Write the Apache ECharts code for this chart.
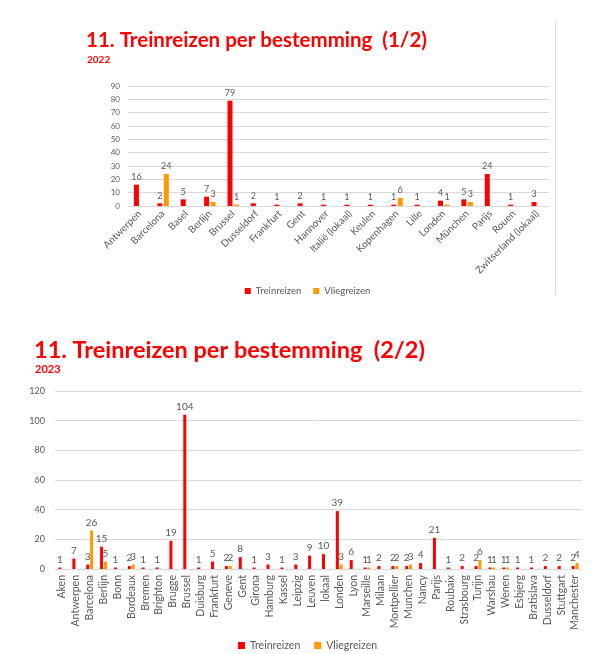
<!DOCTYPE html>
<html>
<head>
<meta charset="utf-8">
<script src="https://cdn.jsdelivr.net/npm/echarts@6/dist/echarts.min.js"></script>
<style>html,body{margin:0;padding:0;background:#fff}#c{width:615px;height:654px}</style>
</head>
<body>
<div id="c"></div>
<script>
const cats2022 = ["Antwerpen","Barcelona","Basel","Berlijn","Brussel","Dusseldorf","Frankfurt","Gent","Hannover","Italië (lokaal)","Keulen","Kopenhagen","Lille","Londen","München","Parijs","Rouen","Zwitserland (lokaal)"];
const trein2022 = [16,2,5,7,79,2,1,2,1,1,1,1,1,4,5,24,1,3];
const vlieg2022 = [null,24,null,3,1,null,null,null,null,null,null,6,null,1,3,null,null,null];
const yTicks2022 = [0,10,20,30,40,50,60,70,80,90];

const cats2023 = ["Aken","Antwerpen","Barcelona","Berlijn","Bonn","Bordeaux","Bremen","Brighton","Brugge","Brussel","Duisburg","Frankfurt","Geneve","Gent","Girona","Hamburg","Kassel","Leipzig","Leuven","lokaal","Londen","Lyon","Marseille","Milaan","Montpellier","Munchen","Nancy","Parijs","Roubaix","Strasbourg","Turijn","Warshau","Wenen","Esbjerg","Bratislava","Dusseldorf","Stuttgart","Manchester"];
const trein2023 = [1,7,3,15,1,2,1,1,19,104,1,5,2,8,1,3,1,3,9,10,39,6,1,2,2,2,4,21,1,2,2,1,1,1,1,2,2,2];
const vlieg2023 = [null,null,26,5,null,3,null,null,null,null,null,null,2,null,null,null,null,null,null,null,3,null,1,null,2,3,null,null,null,null,6,1,1,null,null,null,null,4];
const yTicks2023 = [0,20,40,60,80,100,120];

const RED = '#FF0000', ORANGE = '#FF9900', GRAY = '#595959', GRID = '#D9D9D9';
const FONT = 'Lato';

const chart = echarts.init(document.getElementById('c'), null, {renderer:'canvas'});
const lbl = (fs) => ({show:true, position:'top', color:GRAY, fontSize:fs, fontFamily:FONT, distance:3,
  formatter: p => (p.value == null ? '' : p.value)});

chart.setOption({
  animation:false,
  textStyle:{fontFamily:FONT},
  title:[
    {text:'11. Treinreizen per bestemming  (1/2)', left:81, top:25,
     textStyle:{color:RED, fontSize:20.5, fontWeight:'bold', fontFamily:FONT}},
    {text:'2022', left:82, top:50, textStyle:{color:RED, fontSize:10, fontWeight:'bold', fontFamily:FONT}},
    {text:'11. Treinreizen per bestemming  (2/2)', left:29, top:333,
     textStyle:{color:RED, fontSize:23.5, fontWeight:'bold', fontFamily:FONT}},
    {text:'2023', left:30, top:359, textStyle:{color:RED, fontSize:11, fontWeight:'bold', fontFamily:FONT}}
  ],
  graphic:[{type:'line', shape:{x1:555.5, y1:21, x2:555.5, y2:295}, style:{stroke:GRID, lineWidth:1}}],
  legend:[
    {data:['Treinreizen','Vliegreizen'], left:'center', top:281, itemWidth:6, itemHeight:6, itemGap:12,
     icon:'rect', textStyle:{color:GRAY, fontSize:9.5, fontFamily:FONT},
     selectedMode:false, formatter: n => n},
    {data:['Treinreizen ','Vliegreizen '], left:'center', top:635, itemWidth:7, itemHeight:7, itemGap:14,
     icon:'rect', textStyle:{color:GRAY, fontSize:10.5, fontFamily:FONT}, selectedMode:false,
     formatter: n => n.trim()}
  ],
  grid:[
    {left:128, right:66, top:86, bottom:448},
    {left:55, right:33, top:391, bottom:85}
  ],
  xAxis:[
    {type:'category', gridIndex:0, data:cats2022,
     axisLine:{lineStyle:{color:GRID}}, axisTick:{show:false},
     axisLabel:{rotate:45, color:GRAY, fontSize:10, fontFamily:FONT, margin:6, interval:0}},
    {type:'category', gridIndex:1, data:cats2023,
     axisLine:{lineStyle:{color:GRID}}, axisTick:{show:false},
     axisLabel:{rotate:90, color:GRAY, fontSize:10.5, fontFamily:FONT, margin:6, interval:0}}
  ],
  yAxis:[
    {type:'value', gridIndex:0, min:yTicks2022[0], max:yTicks2022[yTicks2022.length-1], interval:10,
     axisLine:{show:false}, axisTick:{show:false},
     splitLine:{lineStyle:{color:GRID}},
     axisLabel:{color:GRAY, fontSize:8, fontFamily:FONT, margin:8}},
    {type:'value', gridIndex:1, min:yTicks2023[0], max:yTicks2023[yTicks2023.length-1], interval:20,
     axisLine:{show:false}, axisTick:{show:false},
     splitLine:{lineStyle:{color:GRID}},
     axisLabel:{color:GRAY, fontSize:9, fontFamily:FONT, margin:10}}
  ],
  series:[
    {name:'Treinreizen', type:'bar', xAxisIndex:0, yAxisIndex:0, data:trein2022, barWidth:5, barGap:'30%',
     itemStyle:{color:RED}, label:lbl(9)},
    {name:'Vliegreizen', type:'bar', xAxisIndex:0, yAxisIndex:0, data:vlieg2022, barWidth:5, barGap:'30%',
     itemStyle:{color:ORANGE}, label:lbl(9)},
    {name:'Treinreizen ', type:'bar', xAxisIndex:1, yAxisIndex:1, data:trein2023, barWidth:3, barGap:'30%',
     itemStyle:{color:RED}, label:lbl(10)},
    {name:'Vliegreizen ', type:'bar', xAxisIndex:1, yAxisIndex:1, data:vlieg2023, barWidth:3, barGap:'30%',
     itemStyle:{color:ORANGE}, label:lbl(10)}
  ]
});
</script>
</body>
</html>
